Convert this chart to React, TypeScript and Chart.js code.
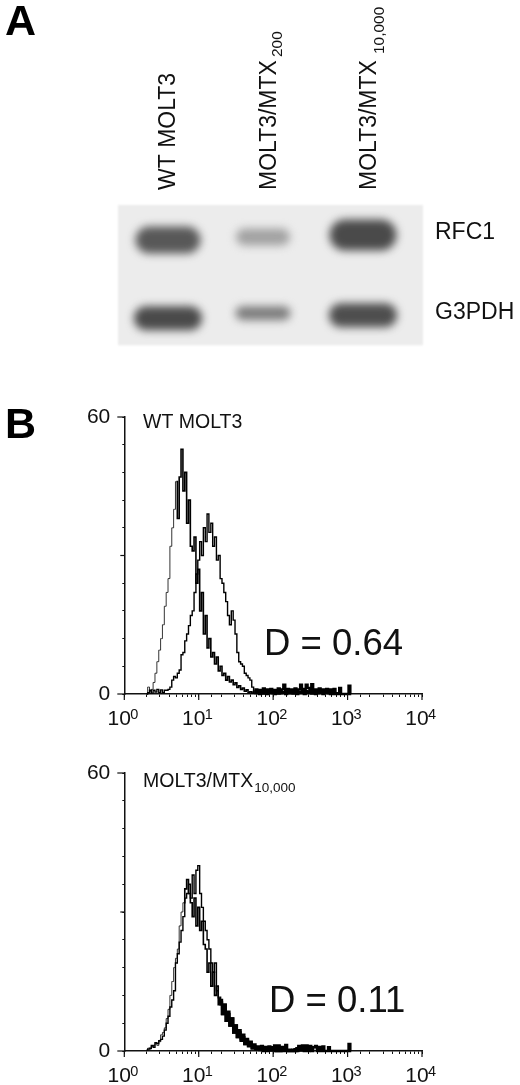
import React, { useEffect, useRef } from "react";
import { Chart, registerables } from "chart.js";

Chart.register(...registerables);

const FONT = "'Liberation Sans', Arial, sans-serif";

// Panel A: blot
const laneLabels = ["WT MOLT3", "MOLT3/MTX", "MOLT3/MTX"];
const laneSubscripts = ["", "200", "10,000"];
const subscriptGap = [0, 2, 5];
const subscriptShift = [0, 10, 12];
const laneTicks = [49, 150, 250];
const geneLabels = ["RFC1", "G3PDH"];
const geneTicks = [28, 108];
const bandX = [50, 145, 245];
const bandY = [
  [35, 32, 30],
  [113, 108, 110],
];
const bandW = [
  [65, 54, 67],
  [68, 55, 68],
];
const bandH = [
  [27, 17, 31],
  [24, 14, 24],
];
const bandInk = [
  ["#585858", "#a2a2a2", "#4a4a4a"],
  ["#4a4a4a", "#7c7c7c", "#4e4e4e"],
];

// Panel B: histograms (fluorescence bins, counts)
const bins = [
  2.0, 2.12, 2.24, 2.37, 2.51, 2.66, 2.82, 2.99, 3.16, 3.35, 3.55, 3.76, 3.98, 4.22, 4.47, 4.73, 5.01, 5.31, 5.62, 5.96,
  6.31, 6.68, 7.08, 7.5, 7.94, 8.41, 8.91, 9.44, 10.0, 10.6, 11.2, 11.9, 12.6, 13.3, 14.1, 15.0, 15.8, 16.8, 17.8, 18.8,
  20.0, 21.1, 22.4, 23.7, 25.1, 26.6, 28.2, 29.9, 31.6, 33.5, 35.5, 37.6, 39.8, 42.2, 44.7, 47.3, 50.1, 53.1, 56.2, 59.6,
  63.1, 66.8, 70.8, 75.0, 79.4, 84.1, 89.1, 94.4, 100, 106, 112, 119, 126, 133, 141, 150, 158, 168, 178, 188,
  200, 211, 224, 237, 251, 266, 282, 299, 316, 335, 355, 376, 398, 422, 447, 473, 501, 531, 562, 596,
  631, 668, 708, 750, 794, 841, 891, 944, 1000, 1060, 1120,
];
const wtControl = [
  0, 1.5, 0.5, 1, 2.5, 4.5, 7, 9.5, 12, 15, 19, 22, 25, 32, 36, 40, 46, 38, 47, 53, 44, 48, 37, 42, 32, 31, 34, 24, 27, 18,
  22, 13, 17, 10, 12, 8, 9, 6.5, 8, 5, 6, 4, 4.5, 3, 3.8, 2.6, 3, 2, 2.4, 1.4, 1.8, 1, 1.3, 0.6, 0.9, 0.3, 0.5,
  0.2, 0.6, 0.2, 0.5, 0, 0.4, 0.1, 0.5, 0, 0.4, 0.2, 0.5, 0, 0.4, 0.1, 0.6, 0.2, 0.4, 0, 0.5, 0.2, 0.4, 0.1, 0.6, 0, 0.5, 0.2,
  0.4, 0, 0.6, 0.2, 0.4, 0.1, 0.5, 0, 0.5, 0.2, 0.4, 0, 0.5, 0.2, 0.4, 0, 0.3, 0, 0,
];
const wtTest = [
  0, 0.3, 0.8, 0.2, 0.8, 0.4, 1, 0.3, 0.9, 0.3, 0.8, 0.8, 1, 1.5, 3, 3.8, 3.5, 4.5, 5.2, 8.5, 9, 11.5, 13, 14.8, 17, 18, 22,
  26, 29, 33, 30, 36, 33, 39, 35, 37, 32, 34, 29, 30, 25, 24, 22, 20, 17, 15, 18, 16, 13, 9, 7, 6.5, 6, 4.5, 4, 3.5, 3, 1.5,
  0.3, 1, 0.2, 0.9, 0.3, 1.2, 0.2, 1, 0.3, 1.1, 0.2, 0.9, 0.4, 1.2, 0.2, 1, 2, 0.3, 1.1, 0.2, 1, 0.3, 1.2, 0.4, 1, 2, 0.3, 1.1,
  2, 1.3, 0.4, 2.1, 0.3, 1, 0.2, 1.2, 0.3, 1, 0.4, 1.1, 0.2, 1, 0.4, 1.1, 0.2, 0, 1.3, 0, 0, 0, 0, 1.8, 0,
];
const mtxControl = [
  0.2, 0.6, 0.4, 1, 1.2, 1.6, 1.2, 2, 3.5, 4, 5, 7, 9, 12, 15, 18, 20, 22, 27, 30, 32, 35, 37, 34, 32, 29, 33, 27, 31, 26, 28,
  23, 22, 17, 19, 14, 17, 12, 14, 10, 11, 8, 10, 6.5, 8, 5.5, 7, 4, 5.5, 3, 4, 2.5, 3, 1.5, 2.2, 1.2, 1.5, 0.6, 1, 0.3,
  0.7, 0.2, 0.6, 0, 0.5, 0, 0.4, 0.1, 0.5, 0, 0.3, 0, 0, 0.3, 0, 0, 0, 0.3, 0, 0, 0.4, 0, 0.5, 0.1, 0.5, 0, 0.4, 0, 0.3,
];
const mtxTest = [
  0.2, 0.4, 0.6, 1.2, 0.8, 1.8, 1.6, 2.2, 2.5, 3.2, 4.5, 6, 7.5, 9.5, 11, 13, 19, 21, 23.5, 26, 29, 33, 34, 36, 33, 38, 34,
  39, 40, 34, 31, 28, 26, 24, 22, 19, 17, 19, 13, 11.5, 10.5, 8, 10, 6.5, 8.5, 5.5, 7, 4, 5.5, 3, 4.5, 2.2, 3.5, 1.5, 2.6, 1,
  2, 0.6, 1.4, 0.5, 1, 0.4, 1.1, 0.2, 0.9, 0.3, 1, 0.2, 0.8, 1.2, 0, 1.2, 0, 0.9, 0.2, 1.3, 0, 0, 0, 0.3, 0, 0.6, 1.1, 0.3, 1.2, 0.4,
  1.2, 0.3, 1.1, 0, 0.8, 1.1, 0, 0.9, 0, 1, 0, 0, 0.8, 0, 0, 0, 0, 0, 0, 0, 0, 0, 0, 1.5, 0, 0,
];
const decades = [1, 10, 100, 1000, 10000];
const decadeExponents = ["0", "1", "2", "3", "4"];

function points(values: number[]) {
  return values.map((y, i) => ({ x: bins[i], y }));
}

function makeBlot(canvas: HTMLCanvasElement) {
  const blotPlugin = {
    id: "blot",
    beforeDatasetsDraw(chart: any) {
      const { ctx, chartArea: a, scales } = chart;
      ctx.save();
      ctx.filter = "blur(1px)";
      ctx.fillStyle = "#ececec";
      ctx.fillRect(a.left, a.top, a.right - a.left, a.bottom - a.top);
      ctx.restore();
      const sx = scales.x;
      const sy = scales.y;
      bandY.forEach((row, g) =>
        row.forEach((yv, l) => {
          const w = sx.getPixelForValue(bandW[g][l]) - sx.getPixelForValue(0);
          const h = sy.getPixelForValue(bandH[g][l]) - sy.getPixelForValue(0);
          const cx = sx.getPixelForValue(bandX[l]);
          const cy = sy.getPixelForValue(yv);
          ctx.save();
          ctx.filter = "blur(4.5px)";
          ctx.fillStyle = bandInk[g][l];
          ctx.beginPath();
          ctx.roundRect(cx - w / 2, cy - h / 2, w, h, h / 2);
          ctx.fill();
          ctx.restore();
        })
      );
    },
    afterDraw(chart: any) {
      const { ctx, scales } = chart;
      laneSubscripts.forEach((sub, i) => {
        if (!sub) return;
        ctx.save();
        ctx.font = `23px ${FONT}`;
        const mainW = ctx.measureText(laneLabels[i]).width;
        ctx.translate(scales.x.getPixelForValue(laneTicks[i]) + subscriptShift[i], 190 - mainW - 1 - subscriptGap[i]);
        ctx.rotate(-Math.PI / 2);
        ctx.font = `15.5px ${FONT}`;
        ctx.fillStyle = "#111";
        ctx.textBaseline = "middle";
        ctx.fillText(sub, 0, 0);
        ctx.restore();
      });
    },
  };
  return new Chart(canvas, {
    type: "scatter",
    data: { datasets: [{ data: bandX.map((x, i) => ({ x, y: bandY[0][i] })), pointRadius: 0 }] },
    plugins: [blotPlugin],
    options: {
      animation: false,
      responsive: false,
      layout: { padding: { left: 118, right: 0, top: 0, bottom: 5 } },
      plugins: { legend: { display: false }, tooltip: { enabled: false } },
      scales: {
        x: {
          type: "linear",
          position: "top",
          min: 0,
          max: 305,
          afterBuildTicks: (s: any) => {
            s.ticks = laneTicks.map((value) => ({ value }));
          },
          afterFit: (s: any) => {
            s.height = 205;
          },
          grid: { display: false, drawTicks: false },
          border: { display: false },
          ticks: {
            autoSkip: false,
            minRotation: 90,
            maxRotation: 90,
            padding: 15,
            labelOffset: 29,
            color: "#111",
            font: { family: FONT, size: 23 },
            callback: (v: any) => laneLabels[laneTicks.indexOf(v)],
          },
        },
        y: {
          type: "linear",
          position: "right",
          reverse: true,
          min: 0,
          max: 140,
          afterBuildTicks: (s: any) => {
            s.ticks = geneTicks.map((value) => ({ value }));
          },
          afterFit: (s: any) => {
            s.width = 97;
          },
          grid: { display: false, drawTicks: false },
          border: { display: false },
          ticks: {
            autoSkip: false,
            padding: 12,
            color: "#111",
            font: { family: FONT, size: 23 },
            callback: (v: any) => geneLabels[geneTicks.indexOf(v)],
          },
        },
      },
    },
  } as any);
}

type HistSpec = {
  control: number[];
  test: number[];
  controlPeak: number;
  heavyFrom: number;
  title: string;
  titleSub: string;
  titleY: number;
  note: string;
  noteX: number;
  noteY: number;
  top: number;
  axisH: number;
};

function makeHist(canvas: HTMLCanvasElement, spec: HistSpec) {
  const overlay = {
    id: "overlay",
    afterDraw(chart: any) {
      const { ctx, scales } = chart;
      const sx = scales.x;
      const sy = scales.y;
      ctx.save();
      ctx.fillStyle = "#111";
      ctx.strokeStyle = "#111";
      ctx.lineWidth = 1.2;
      // longer marks on the decades and on 0/30/60
      decades.forEach((v, i) => {
        const x = sx.getPixelForValue(v);
        ctx.beginPath();
        ctx.moveTo(x, sy.bottom);
        ctx.lineTo(x, sy.bottom + 6);
        ctx.stroke();
        ctx.font = `14.5px ${FONT}`;
        ctx.textAlign = "left";
        ctx.textBaseline = "alphabetic";
        ctx.fillText(decadeExponents[i], x + 6, sy.bottom + 25);
      });
      [60, 30, 0].forEach((v, i) => {
        const y = sy.getPixelForValue(v);
        ctx.beginPath();
        ctx.moveTo(sx.left, y);
        ctx.lineTo(sx.left - (i === 1 ? 4 : 7), y);
        ctx.stroke();
      });
      ctx.textAlign = "left";
      ctx.textBaseline = "alphabetic";
      ctx.font = `19.5px ${FONT}`;
      ctx.fillText(spec.title, 143, spec.titleY);
      if (spec.titleSub) {
        const w = ctx.measureText(spec.title).width;
        ctx.font = `13.5px ${FONT}`;
        ctx.fillText(spec.titleSub, 143 + w + 1, spec.titleY + 5);
      }
      ctx.font = `36.5px ${FONT}`;
      ctx.fillText(spec.note, spec.noteX, spec.noteY);
      ctx.restore();
    },
  };
  return new Chart(canvas, {
    type: "scatter",
    data: {
      datasets: [
        {
          label: "control",
          data: points(spec.control),
          showLine: true,
          stepped: "middle",
          borderColor: "#000",
          borderWidth: 1.3,
          segment: {
            borderWidth: (c: any) =>
              c.p0.parsed.x < spec.controlPeak ? 0.8 : c.p0.parsed.x > spec.heavyFrom ? 2.4 : 1.6,
          },
          pointRadius: 0,
          clip: false,
        },
        {
          label: "test",
          data: points(spec.test),
          showLine: true,
          stepped: "middle",
          borderColor: "#000",
          borderWidth: 1.4,
          segment: {
            borderWidth: (c: any) => (c.p0.parsed.x > spec.heavyFrom ? 2.4 : 1.4),
          },
          pointRadius: 0,
          clip: false,
        },
      ],
    },
    plugins: [overlay],
    options: {
      animation: false,
      responsive: false,
      layout: { padding: { left: 0, right: 98, top: spec.top, bottom: 0 } },
      plugins: { legend: { display: false }, tooltip: { enabled: false } },
      scales: {
        x: {
          type: "logarithmic",
          min: 1,
          max: 10000,
          afterFit: (s: any) => {
            s.height = spec.axisH;
            s.paddingLeft = 0;
            s.paddingRight = 0;
          },
          grid: { drawOnChartArea: false, tickLength: 3, tickColor: "#111", tickWidth: 1 },
          border: { color: "#111", width: 1.5 },
          ticks: {
            autoSkip: false,
            maxRotation: 0,
            minRotation: 0,
            padding: 10,
            labelOffset: -5,
            color: "#111",
            font: { family: FONT, size: 21 },
            callback: (v: any) => (decades.includes(Number(v)) ? "10" : ""),
          },
        },
        y: {
          type: "linear",
          min: 0,
          max: 60,
          afterFit: (s: any) => {
            s.width = 124.3;
            s.paddingTop = 0;
            s.paddingBottom = 0;
          },
          grid: { drawOnChartArea: false, tickLength: 2, tickColor: "#111", tickWidth: 1 },
          border: { color: "#111", width: 1.5 },
          ticks: {
            stepSize: 6,
            autoSkip: false,
            padding: 12,
            color: "#111",
            font: { family: FONT, size: 21 },
            callback: (v: any) => (v === 60 || v === 0 ? String(v) : ""),
          },
        },
      },
    },
  } as any);
}

const specA: HistSpec = {
  control: wtControl,
  test: wtTest,
  controlPeak: 5,
  heavyFrom: 55,
  title: "WT MOLT3",
  titleSub: "",
  titleY: 28,
  note: "D = 0.64",
  noteX: 264,
  noteY: 255,
  top: 17,
  axisH: 41,
};
const specB: HistSpec = {
  control: mtxControl,
  test: mtxTest,
  controlPeak: 6,
  heavyFrom: 18,
  title: "MOLT3/MTX",
  titleSub: "10,000",
  titleY: 32,
  note: "D = 0.11",
  noteX: 269,
  noteY: 257,
  top: 18,
  axisH: 34,
};

const letter = (top: number): React.CSSProperties => ({
  position: "absolute",
  left: 5,
  top,
  font: `bold 43px/43px ${FONT}`,
  color: "#000",
});

export default function App() {
  const a = useRef<HTMLCanvasElement>(null);
  const b = useRef<HTMLCanvasElement>(null);
  const c = useRef<HTMLCanvasElement>(null);
  useEffect(() => {
    const charts = [makeBlot(a.current!), makeHist(b.current!, specA), makeHist(c.current!, specB)];
    return () => charts.forEach((ch) => ch.destroy());
  }, []);
  return (
    <div style={{ position: "absolute", left: 0, top: 0, width: 520, height: 1085, background: "#fff", overflow: "hidden" }}>
      <canvas ref={a} width={520} height={371} style={{ position: "absolute", left: 0, top: 0 }} />
      <canvas ref={b} width={520} height={335} style={{ position: "absolute", left: 0, top: 400 }} />
      <canvas ref={c} width={520} height={330} style={{ position: "absolute", left: 0, top: 755 }} />
      <div style={letter(-1)}>A</div>
      <div style={letter(402)}>B</div>
    </div>
  );
}
